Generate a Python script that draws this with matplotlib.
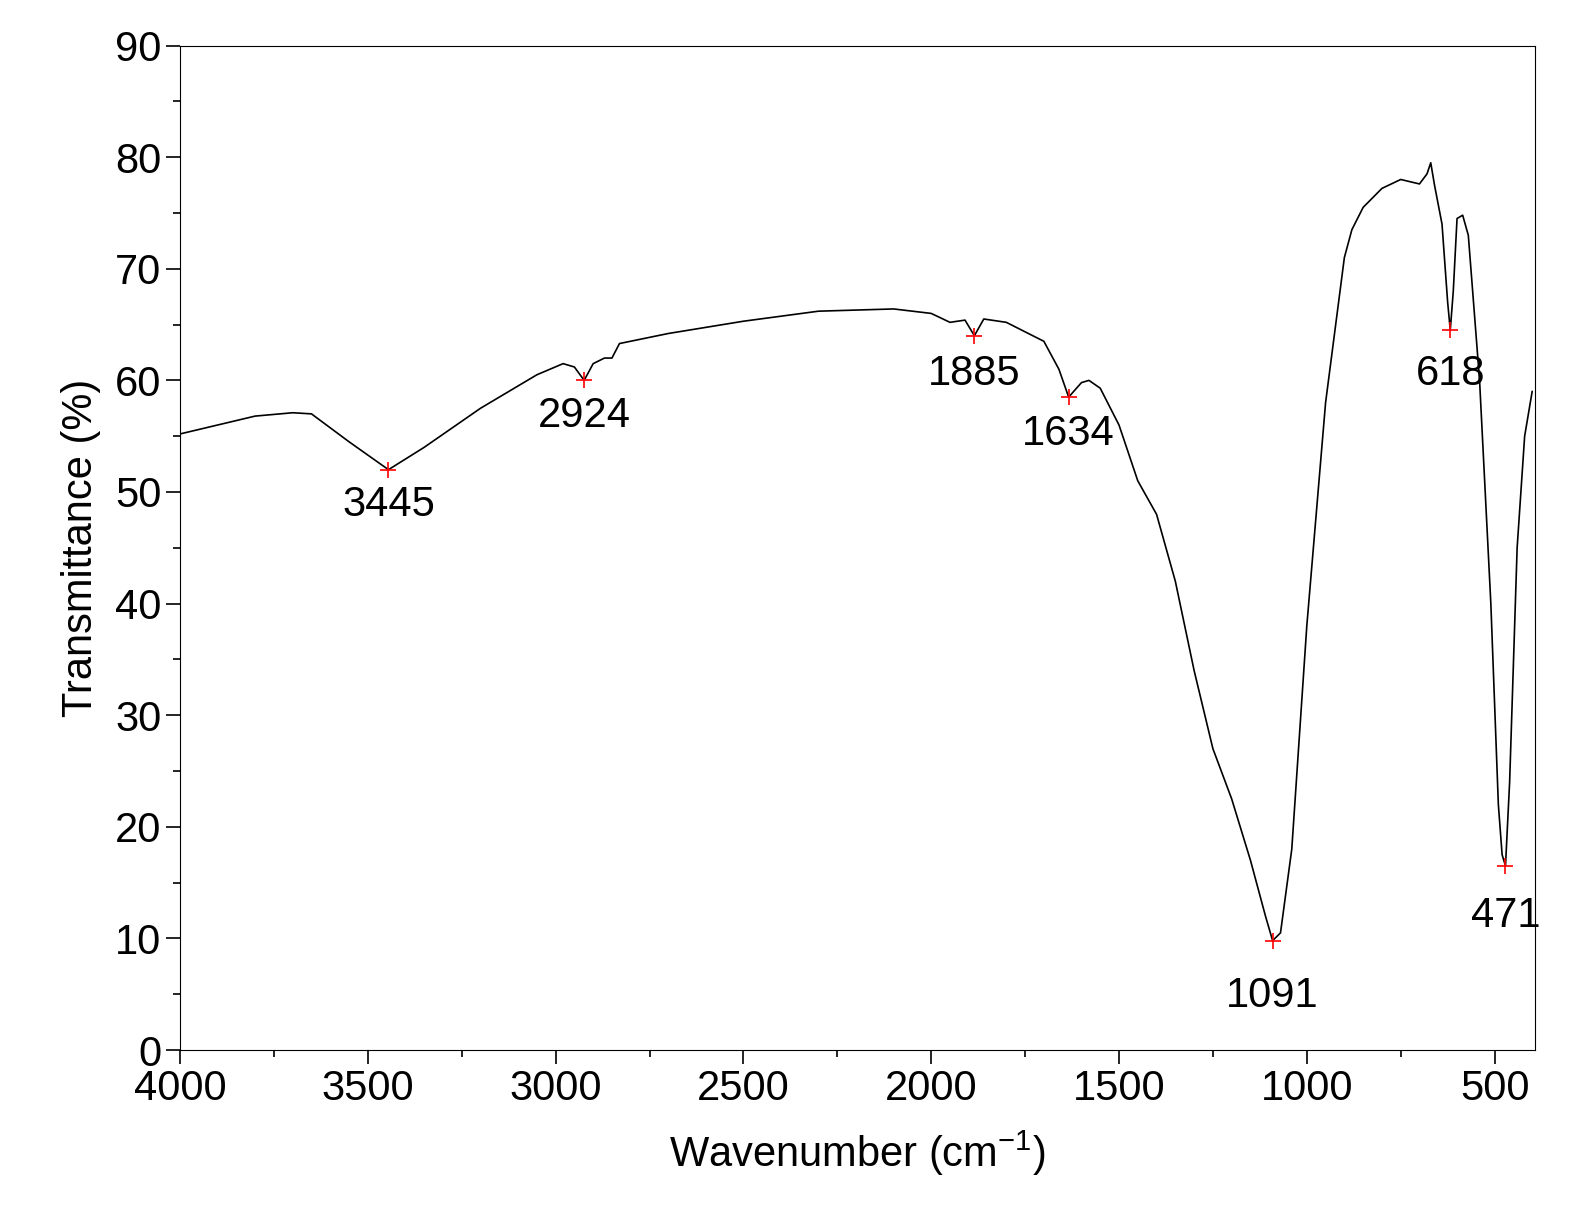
import matplotlib.pyplot as plt
from matplotlib.ticker import MultipleLocator

plt.rcParams['font.family'] = ['Liberation Sans', 'DejaVu Sans']
plt.rcParams['mathtext.fontset'] = 'custom'
plt.rcParams['mathtext.rm'] = 'Liberation Sans'

# FTIR spectrum
wavenumber = [4000, 3800, 3700, 3650, 3550, 3445, 3350, 3200, 3050, 2980, 2950, 2924, 2900,
              2870, 2850, 2830, 2700, 2500, 2300, 2100, 2000, 1950, 1910, 1885, 1860, 1800,
              1700, 1660, 1634, 1600, 1580, 1550, 1500, 1450, 1400, 1350, 1300, 1250, 1200,
              1150, 1110, 1091, 1070, 1040, 1000, 950, 900, 880, 850, 800, 750, 700, 680,
              670, 660, 640, 625, 618, 610, 600, 585, 570, 540, 510, 490, 480, 471, 460,
              440, 420, 400]
transmittance = [55.2, 56.8, 57.1, 57.0, 54.5, 52.0, 54.0, 57.5, 60.5, 61.5, 61.2, 60.0, 61.5,
                 62.0, 62.0, 63.3, 64.2, 65.3, 66.2, 66.4, 66.0, 65.2, 65.4, 64.0, 65.5, 65.2,
                 63.5, 61.0, 58.5, 59.8, 60.0, 59.3, 56.0, 51.0, 48.0, 42.0, 34.0, 27.0, 22.5,
                 17.0, 12.0, 9.8, 10.5, 18.0, 38.0, 58.0, 71.0, 73.5, 75.5, 77.2, 78.0, 77.6, 78.5,
                 79.5, 77.5, 74.0, 67.0, 64.5, 68.0, 74.5, 74.8, 73.0, 60.0, 40.0, 22.0, 17.5, 16.5, 24.0,
                 45.0, 55.0, 59.0]

peak_x = [3445, 2924, 1885, 1634, 1091, 618, 471]
peak_y = [52.0, 60.0, 64.0, 58.5, 9.8, 64.5, 16.5]
label_x = [3445, 2924, 1885, 1634, 1091, 618, 471]
label_y = [48.8, 56.8, 60.6, 55.2, 4.8, 60.6, 12.0]

fig = plt.figure(figsize=(15.79, 12.31), dpi=100)
ax = fig.add_axes([0.114, 0.147, 0.858, 0.816])
ax.plot(wavenumber, transmittance, color='black', lw=1.2)
ax.plot(peak_x, peak_y, '+', color='red', ms=12, mew=1.2)
for x, y, px in zip(label_x, label_y, peak_x):
    ax.text(x, y, str(px), ha='center', va='center', fontsize=30)

ax.set_xlim(4000, 393)
ax.set_ylim(0, 90)
ax.xaxis.set_major_locator(MultipleLocator(500))
ax.xaxis.set_minor_locator(MultipleLocator(250))
ax.yaxis.set_major_locator(MultipleLocator(10))
ax.yaxis.set_minor_locator(MultipleLocator(5))
ax.tick_params(labelsize=30, length=10, width=1.2)
ax.tick_params(which='minor', length=5, width=1.2)
ax.set_xlabel('Wavenumber (cm$^{-1}$)', fontsize=30, labelpad=14)
ax.set_ylabel('Transmittance (%)', fontsize=30, labelpad=10)

plt.savefig('out.png', dpi=100)
